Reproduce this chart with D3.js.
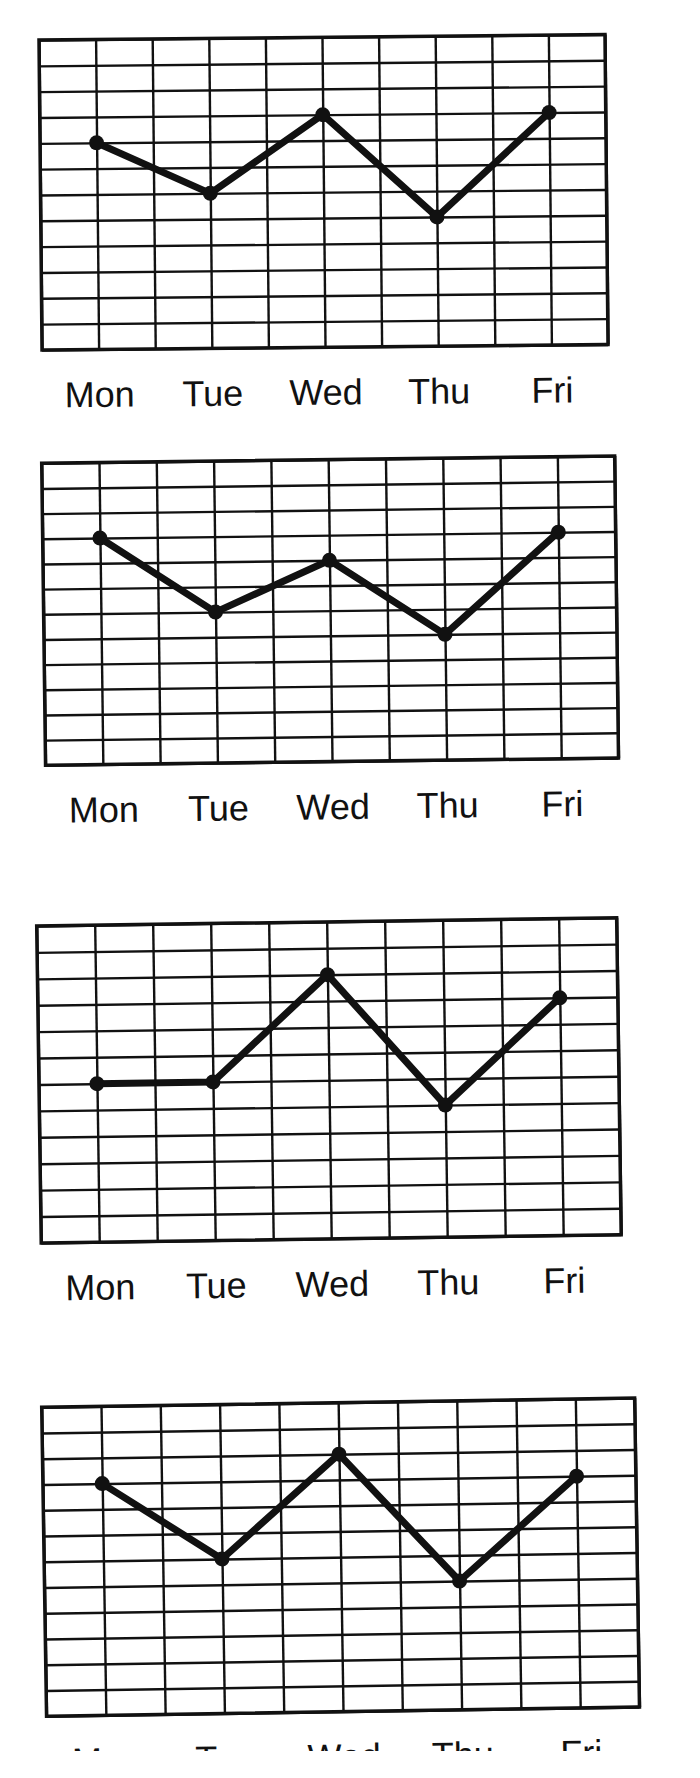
<!DOCTYPE html>
<html>
<head>
<meta charset="utf-8">
<script src="https://cdn.jsdelivr.net/npm/d3@7"></script>
<style>
  html, body { margin: 0; padding: 0; background: #fff; }
  svg { display: block; }
  .grid line { stroke: #111; stroke-width: 2.4; }
  .grid .domain { display: none; }
  .days .domain { display: none; }
  .days line { display: none; }
  .days text { font-family: "Liberation Sans", Arial, sans-serif; font-size: 36px; fill: #111; }
</style>
</head>
<body>
<div id="chart"></div>
<script>
const days = ['Mon', 'Tue', 'Wed', 'Thu', 'Fri'];
const week1 = [8, 6, 9, 5, 9];
const week2 = [9, 6, 8, 5, 9];
const week3 = [6, 6, 10, 5, 9];
const week4 = [9, 6, 10, 5, 9];
const series = [week1, week2, week3, week4];

const rows = 12;
const cols = 10;

// where each grid sits on the page; the scan is slightly crooked
const frames = [
  { x: 39, y: 40, w: 566, h: 310, tilt: -0.56 },
  { x: 41.7, y: 463.3, w: 573, h: 302, tilt: -0.73 },
  { x: 36.7, y: 926, w: 580, h: 317, tilt: -0.82 },
  { x: 41.7, y: 1407.3, w: 593, h: 309, tilt: -0.9 }
];

const width = 700;
const height = 1778;

const svg = d3.select('#chart')
  .append('svg')
  .attr('width', width)
  .attr('height', height);

// the bottom of the scan was cut off
svg.append('clipPath')
  .attr('id', 'page')
  .append('rect')
  .attr('x', 0)
  .attr('y', 0)
  .attr('width', width)
  .attr('height', 1751);

const page = svg.append('g').attr('clip-path', 'url(#page)');

function renderChart(values, f) {
  const x = d3.scaleLinear().domain([0, cols]).range([0, f.w]);
  const y = d3.scaleLinear().domain([0, rows]).range([f.h, 0]);
  const xDay = d3.scalePoint().domain(days).range([x(1), x(9)]);

  const g = page.append('g')
    .attr('transform', `translate(${f.x},${f.y}) rotate(${f.tilt})`);

  g.append('g')
    .attr('class', 'grid')
    .call(d3.axisLeft(y).ticks(rows).tickSize(-f.w).tickFormat(''));

  g.append('g')
    .attr('class', 'grid')
    .attr('transform', `translate(0,${f.h})`)
    .call(d3.axisBottom(x).ticks(cols).tickSize(f.h).tickFormat(''))
    .selectAll('.tick line')
    .attr('y2', -f.h);

  g.append('rect')
    .attr('x', 0)
    .attr('y', 0)
    .attr('width', f.w)
    .attr('height', f.h)
    .attr('fill', 'none')
    .attr('stroke', '#111')
    .attr('stroke-width', 3.5);

  const line = d3.line()
    .x((d, i) => xDay(days[i]))
    .y(d => y(d));

  g.append('path')
    .datum(values)
    .attr('d', line)
    .attr('fill', 'none')
    .attr('stroke', '#111')
    .attr('stroke-width', 7)
    .attr('stroke-linejoin', 'round');

  g.selectAll('circle')
    .data(values)
    .enter()
    .append('circle')
    .attr('cx', (d, i) => xDay(days[i]))
    .attr('cy', d => y(d))
    .attr('r', 7.5)
    .attr('fill', '#111');

  g.append('g')
    .attr('class', 'days')
    .attr('transform', `translate(0,${f.h})`)
    .call(d3.axisBottom(xDay).tickSize(0).tickPadding(32));
}

series.forEach((values, i) => renderChart(values, frames[i]));
</script>
</body>
</html>
